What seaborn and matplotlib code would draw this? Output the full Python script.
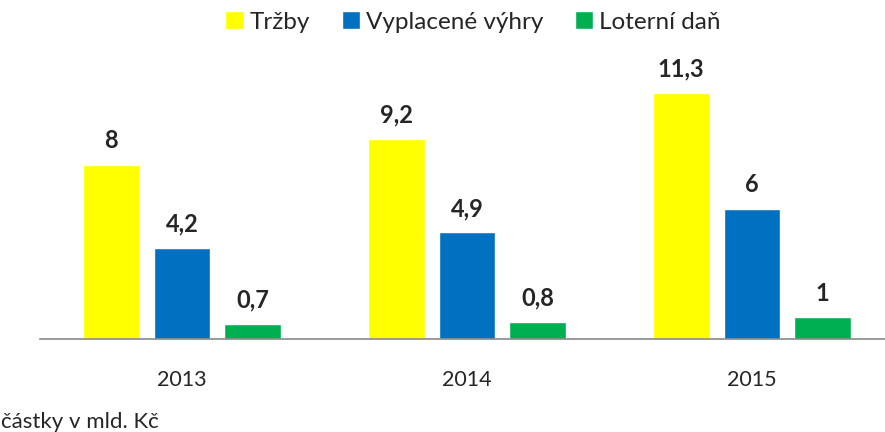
import pandas as pd
import matplotlib
matplotlib.use('Agg')
import matplotlib.pyplot as plt
import seaborn as sns

years = ['2013', '2014', '2015']
series = ['Tržby', 'Vyplacené výhry', 'Loterní daň']
trzby = [8, 9.2, 11.3]
vyhry = [4.2, 4.9, 6]
dan = [0.7, 0.8, 1]
colors = ['#FFFF00', '#0070C0', '#00B050']

df = pd.DataFrame({'rok': years * 3,
                   'serie': [s for s in series for _ in years],
                   'hodnota': trzby + vyhry + dan})

sns.set_style('white')
plt.rcParams['font.family'] = ['Lato', 'DejaVu Sans']

fig = plt.figure(figsize=(8.85, 4.32), dpi=100)
ax = fig.add_axes([39.5/885, 1 - 339/432, 855/885, (339 - 78)/432])

sns.barplot(data=df, x='rok', y='hodnota', hue='serie', palette=colors,
            width=0.745, gap=0.2, saturation=1, ax=ax, legend=True)

for cont in ax.containers:
    labels = [('%g' % v.get_height()).replace('.', ',') for v in cont]
    ax.bar_label(cont, labels=labels, padding=9, fontsize=17,
                 fontweight='bold', clip_on=False)

ax.set_ylim(0, 12)
ax.set_xlim(-0.5, 2.5)
ax.set_xlabel('')
ax.set_ylabel('')
ax.set_yticks([])
ax.tick_params(axis='x', length=0, labelsize=15.5, pad=22)
for s in ['top', 'left', 'right']:
    ax.spines[s].set_visible(False)
ax.spines['bottom'].set_color('#898989')
ax.spines['bottom'].set_linewidth(1.2)

handles, labs = ax.get_legend_handles_labels()
ax.legend(handles, labs, loc='center', bbox_to_anchor=(473/885, 1 - 22/432),
          bbox_transform=fig.transFigure, ncol=3, frameon=False,
          fontsize=17.5, handlelength=0.75, handleheight=0.75,
          handletextpad=0.25, columnspacing=1.3)

fig.text(1/885, 1 - 422/432, 'částky v mld. Kč', fontsize=16, va='center', ha='left')

fig.savefig('out.png', dpi=100)
